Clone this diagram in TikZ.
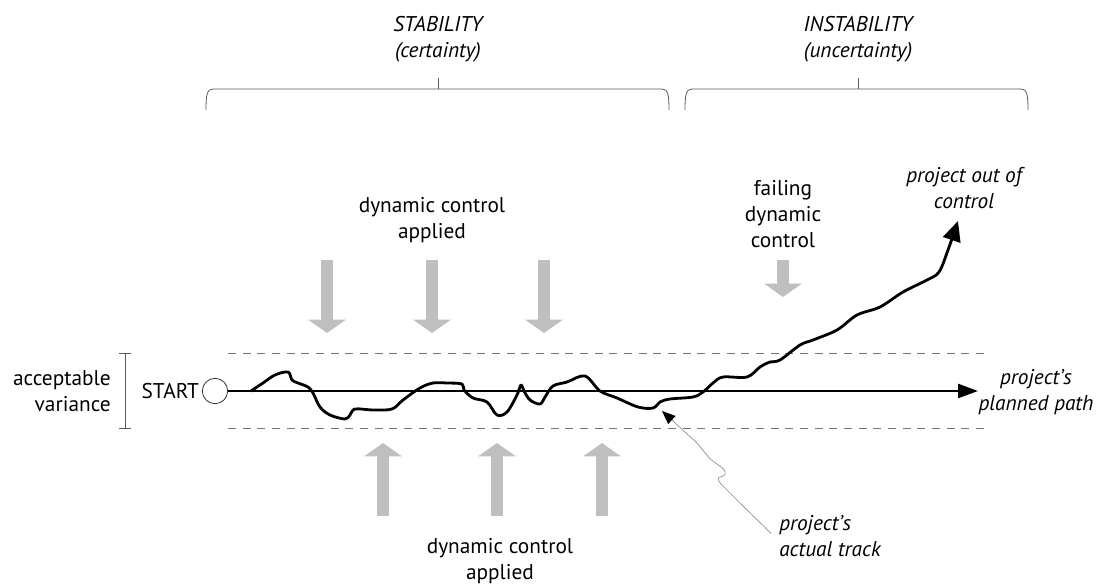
\documentclass[tikz,border=0pt]{standalone}
\usepackage{fontspec}
\setmainfont{PT Sans}
\usetikzlibrary{arrows.meta,positioning}

\begin{document}
\begin{tikzpicture}[x=0.75pt,y=-0.75pt,
  lbl/.style={align=center,inner sep=0pt,font=\fontsize{16}{19.5}\selectfont},
  ilbl/.style={lbl,font=\fontsize{16}{19.5}\selectfont\itshape},
  brace/.style={draw=black!65,line width=0.6pt},
  band/.style={draw=black!55,line width=0.6pt,dash pattern=on 6pt off 5pt},
  push/.style={draw=black!25,line width=9pt,-{Triangle[width=27.75pt,length=10pt]}},
  plan/.style={line width=2pt,-{Triangle[length=15pt,width=10.5pt]}},
  track/.style={line width=2.1pt,line join=round,line cap=round,-{Triangle[length=15pt,width=13.5pt]}},
  pointer/.style={draw=black!45,line width=0.5pt,rounded corners=2pt,-{Triangle[length=10pt,width=8pt,black]}},
  startnode/.style={circle,draw=black!80,line width=0.6pt,fill=white,minimum size=19pt,inner sep=0pt}]

  \useasboundingbox (0,0) rectangle (1097,585);

  % Headings and braces
  \node[ilbl] (stab) at (438,39) {STABILITY\\(certainty)};
  \node[ilbl] (instab) at (858,39) {INSTABILITY\\(uncertainty)};
  \draw[brace] (206,110) .. controls (206,95) and (207,89) .. (213,89) -- (662,89) .. controls (668,89) and (669,95) .. (669,110);
  \draw[brace] (438,89) -- (438,78);
  \draw[brace] (685,110) .. controls (685,95) and (686,89) .. (692,89) -- (1021,89) .. controls (1027,89) and (1028,95) .. (1028,110);
  \draw[brace] (858,89) -- (858,78);

  % Acceptable variance band
  \draw[band] (228,353) -- (985,353);
  \draw[band] (228,428) -- (985,428);
  \draw[brace] (119,353) -- (131,353) (125,353) -- (125,428) (119,428) -- (131,428);
  \node[lbl,align=right,anchor=east] (variance) at (111,391) {acceptable\\variance};

  % Planned path
  \node[startnode] (start) at (215,391) {};
  \node[lbl,left=2pt of start] (startlbl) {START};
  \coordinate (planend) at (978,391);
  \draw[plan] (start) -- (planend);
  \node[ilbl] (planned) at (1036,392) {project's\\planned path};

  % Dynamic control
  \foreach \x in {327,432,544} \draw[push] (\x,260) -- (\x,333);
  \foreach \x in {383,497,602} \draw[push] (\x,516) -- (\x,443);
  \draw[push] (783,260) -- (783,297);
  \node[lbl] (dcTop) at (432,220) {dynamic control\\applied};
  \node[lbl] (dcBot) at (500,561) {dynamic control\\applied};
  \node[lbl] (failing) at (783,214) {failing\\dynamic\\control};

  % Actual track
  \coordinate (trackstart) at (251,391);
  \coordinate (trackend) at (958,221);
  \draw[track] plot[smooth,tension=0.55] coordinates {(trackstart) (263,383) (275,375) (288,372) (292,380) (298,383) (308,387)
    (313,393) (320,407) (330,415) (345,419) (350,415) (355,409) (373,410) (392,409) (403,400) (420,388) (433,383)
    (447,383) (462,384) (464,390) (473,398) (487,402) (497,415) (507,412) (517,395) (521,385) (524,391) (530,400)
    (540,404) (545,397) (553,386) (567,382) (585,376) (600,391) (617,398) (638,407) (653,408) (660,402) (670,399)
    (693,397) (703,392) (713,383) (723,377) (747,377) (760,367) (770,362) (780,360) (800,345) (813,340) (837,330)
    (857,315) (880,307) (903,292) (927,280) (939,272) (948,250) (trackend)};
  \node[ilbl] (ooc) at (964,188) {project out of\\control};

  \coordinate (tracklow) at (662,411);
  \node[ilbl,align=left,anchor=west] (actual) at (779,536) {project's\\actual track};
  \draw[pointer] ([xshift=-6pt,yshift=2pt]actual.west) -- (740,503) -- (720,483) -- (717,478) -- (726,475)
    -- (724,469) -- (710,459) -- (697,443) -- (tracklow);
\end{tikzpicture}
\end{document}
